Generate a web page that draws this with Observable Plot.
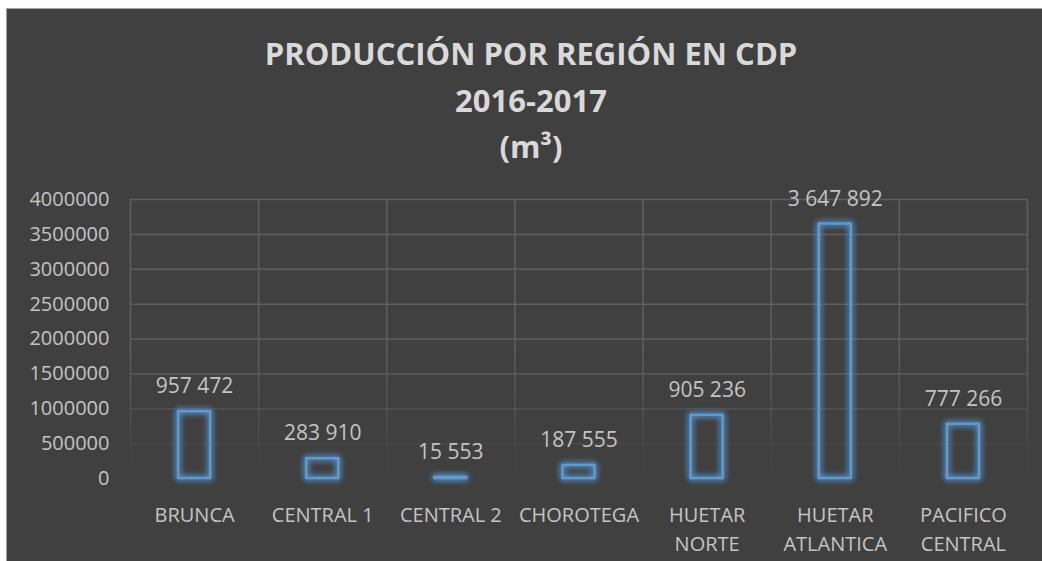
<!DOCTYPE html>
<html>
<head>
<meta charset="utf-8">
<script src="https://cdn.jsdelivr.net/npm/d3@7"></script>
<script src="https://cdn.jsdelivr.net/npm/@observablehq/plot@0.6"></script>
<style>
  html, body { margin: 0; padding: 0; background: #ffffff; width: 1042px; height: 561px; overflow: hidden; }
  #frame { position: absolute; left: 6px; top: 8px; width: 1036px; height: 553px; background: #404040; border-top: 1px solid #a6a6a6; border-left: 1px solid #a6a6a6; box-sizing: border-box; }
  #title { position: absolute; left: 0; top: 30px; width: 1062px; text-align: center; font-family: "Open Sans", sans-serif; font-weight: bold; font-size: 31px; line-height: 46.5px; color: #d9d9d9; }
  #chart { position: absolute; left: 0; top: 170px; }
</style>
</head>
<body>
<div id="frame"></div>
<div id="title">PRODUCCIÓN POR REGIÓN EN CDP<br>2016-2017<br>(m³)</div>
<div id="chart"></div>
<script>
const regions = ["BRUNCA", "CENTRAL 1", "CENTRAL 2", "CHOROTEGA", "HUETAR\nNORTE", "HUETAR\nATLANTICA", "PACIFICO\nCENTRAL"];
const values = [957472, 283910, 15553, 187555, 905236, 3647892, 777266];
const yTicks = [0, 500000, 1000000, 1500000, 2000000, 2500000, 3000000, 3500000, 4000000];

const table = regions.map((r, i) => ({region: r, value: values[i], i}));
const fmt = d3.formatLocale({decimal: ",", thousands: " ", grouping: [3], currency: ["", ""]}).format(",d");
const barColor = "#5b9bd5";
const gridColor = "#5e5e5e";

const plot = Plot.plot({
  width: 1042,
  height: 391,
  marginLeft: 130,
  marginRight: 15,
  marginTop: 29,
  marginBottom: 83,
  style: {background: "transparent", color: "#c4c4c4", fontFamily: "Open Sans, sans-serif", fontSize: "20px"},
  x: {domain: [0, regions.length], axis: null},
  y: {domain: [0, 4000000], axis: null},
  marks: [
    Plot.ruleY(yTicks, {stroke: gridColor, strokeWidth: 1.5, ariaDescription: "hgrid"}),
    Plot.ruleX(d3.range(regions.length + 1), {stroke: gridColor, strokeWidth: 1.5, ariaDescription: "vgrid"}),
    Plot.axisY({ticks: yTicks, tickFormat: d3.format("d"), tickSize: 0, tickPadding: 21, fontSize: 20, label: null}),
    Plot.axisX({ticks: table.map(d => d.i + 0.5), tickFormat: (t) => regions[Math.floor(t)], tickSize: 0, tickPadding: 23, fontSize: 20, lineHeight: 1.45, label: null}),
    Plot.rectY(table, {x1: d => d.i + 0.375, x2: d => d.i + 0.625, y: "value", fill: "none", stroke: barColor, strokeWidth: 2.5, ariaDescription: "bars"}),
    Plot.text(table, {x: d => d.i + 0.5, y: "value", text: d => fmt(d.value), dy: -25, fontSize: 21, fill: "#c4c4c4"})
  ]
});

document.getElementById("chart").appendChild(plot);

// gridline fade and glow, positioned from the y scale
const ys = plot.scale("y");
const svg = d3.select(plot);
const defs = svg.insert("defs", ":first-child");
const grad = defs.append("linearGradient").attr("id", "gridFade")
  .attr("gradientUnits", "userSpaceOnUse")
  .attr("x1", 0).attr("x2", 0)
  .attr("y1", ys.apply(4000000)).attr("y2", ys.apply(0));
grad.append("stop").attr("offset", 0).attr("stop-color", gridColor).attr("stop-opacity", 1);
grad.append("stop").attr("offset", 0.55).attr("stop-color", gridColor).attr("stop-opacity", 1);
grad.append("stop").attr("offset", 0.95).attr("stop-color", gridColor).attr("stop-opacity", 0.1);
grad.append("stop").attr("offset", 1).attr("stop-color", gridColor).attr("stop-opacity", 0);
svg.selectAll('[aria-description="hgrid"], [aria-description="vgrid"]').attr("stroke", "url(#gridFade)");
svg.selectAll('[aria-description="hgrid"] line, [aria-description="vgrid"] line').attr("stroke", null);

const glow = defs.append("filter").attr("id", "glow").attr("x", "-60%").attr("y", "-60%").attr("width", "220%").attr("height", "220%");
glow.append("feGaussianBlur").attr("in", "SourceGraphic").attr("stdDeviation", 3).attr("result", "b");
const merge = glow.append("feMerge");
merge.append("feMergeNode").attr("in", "b");
merge.append("feMergeNode").attr("in", "b");
merge.append("feMergeNode").attr("in", "SourceGraphic");
svg.selectAll('[aria-description="bars"]').attr("filter", "url(#glow)");
</script>
</body>
</html>
